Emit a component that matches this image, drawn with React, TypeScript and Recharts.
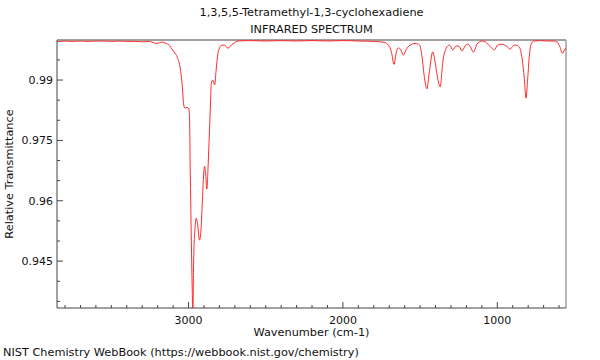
import { LineChart, Line, XAxis, YAxis, ReferenceLine } from "recharts";

// wavenumber (cm-1), read left to right off the plot
const wavenumbers = [
  3852, 3800, 3750, 3700, 3650, 3600, 3550, 3500, 3450, 3400, 3350, 3300, 3253, 3221, 3200, 3188,
  3169, 3145, 3123, 3104, 3084, 3071, 3054, 3041, 3031, 3023, 3010, 3000, 2994, 2989, 2982, 2976,
  2972, 2968, 2959, 2950, 2942, 2929, 2918, 2911, 2903, 2896, 2890, 2881, 2873, 2864, 2857, 2853,
  2844, 2831, 2820, 2810, 2799, 2788, 2766, 2745, 2723, 2701, 2680, 2600, 2500, 2400, 2300, 2200,
  2100, 2000, 1900, 1800, 1760, 1727, 1706, 1695, 1684, 1669, 1656, 1641, 1625, 1608, 1591, 1565,
  1532, 1504, 1489, 1474, 1456, 1440, 1418, 1403, 1388, 1370, 1353, 1331, 1310, 1288, 1266, 1245,
  1229, 1208, 1188, 1175, 1154, 1132, 1099, 1078, 1045, 1019, 998, 969, 937, 916, 898, 877,
  855, 840, 825, 814, 803, 792, 781, 764, 721, 677, 634, 612, 595, 578, 565, 555,
];

const transmittance = [
  0.9995, 0.9997, 0.9996, 0.9997, 0.9996, 0.9997, 0.9997, 0.9996, 0.9997, 0.9996, 0.9996, 0.9995, 0.9996, 0.9992, 0.9991, 0.9993,
  0.9994, 0.9991, 0.9986, 0.9975, 0.9965, 0.9955, 0.993, 0.9888, 0.9838, 0.983, 0.9832, 0.983, 0.9813, 0.9676, 0.9502, 0.9378,
  0.9316, 0.9428, 0.9527, 0.9557, 0.9544, 0.9502, 0.9535, 0.9594, 0.9659, 0.9686, 0.9671, 0.9629, 0.9689, 0.9776, 0.985, 0.989,
  0.99, 0.9888, 0.993, 0.9965, 0.998, 0.9986, 0.9987, 0.9979, 0.9987, 0.9993, 0.9997, 0.9998, 0.9997, 0.9998, 0.9997, 0.9998,
  0.9997, 0.9998, 0.9997, 0.9996, 0.9995, 0.9993, 0.9987, 0.998, 0.9966, 0.9939, 0.9966, 0.998, 0.9975, 0.9962, 0.9975, 0.9987,
  0.9991, 0.9987, 0.9962, 0.9912, 0.9878, 0.9921, 0.997, 0.9945, 0.9908, 0.9883, 0.9945, 0.9979, 0.9987, 0.9975, 0.9985, 0.9983,
  0.9972, 0.9985, 0.9989, 0.9983, 0.9969, 0.9989, 0.9997, 0.9995, 0.9983, 0.9975, 0.9987, 0.9989, 0.9983, 0.9977, 0.9985, 0.9987,
  0.998, 0.9954, 0.9904, 0.9855, 0.9904, 0.9962, 0.9989, 0.9997, 0.9998, 0.9997, 0.9997, 0.9994, 0.9983, 0.9966, 0.9975, 0.998,
];

const xMajorTicks = [3000, 2000, 1000];
const xMinorTicks = [
  3800, 3700, 3600, 3500, 3400, 3300, 3200, 3100, 2900, 2800, 2700, 2600, 2500, 2400, 2300, 2200,
  2100, 1900, 1800, 1700, 1600, 1500, 1400, 1300, 1200, 1100, 900, 800, 700, 600,
];
const yMajorTicks = [0.945, 0.96, 0.975, 0.99];
const yMinorTicks = [0.935, 0.94, 0.95, 0.955, 0.965, 0.97, 0.98, 0.985, 0.995];

const X_DOMAIN = [555, 3852];
const Y_DOMAIN = [0.93335, 0.99995];

const data = wavenumbers.map((w, i) => ({ w, t: transmittance[i] }));

const FONT = "'DejaVu Sans', sans-serif";

function XTick(props: any) {
  const { x, y, payload } = props;
  const major = xMajorTicks.includes(payload.value);
  return (
    <g>
      <line x1={x} x2={x} y1={y} y2={y - (major ? 6 : 3)} stroke="#444" />
      {major && (
        <text x={x} y={y + 16} textAnchor="middle" fontSize={11} fill="#111">
          {payload.value}
        </text>
      )}
    </g>
  );
}

function YTick(props: any) {
  const { x, y, payload } = props;
  const major = yMajorTicks.includes(payload.value);
  return (
    <g>
      <line x1={x} x2={x + (major ? 6 : 3)} y1={y} y2={y} stroke="#444" />
      {major && (
        <text x={x - 4} y={y + 4} textAnchor="end" fontSize={11} fill="#111">
          {payload.value}
        </text>
      )}
    </g>
  );
}

export default function App() {
  const text = { position: "absolute" as const, fontSize: 11.3, lineHeight: "14px", color: "#111", whiteSpace: "nowrap" as const };
  return (
    <div style={{ position: "absolute", left: 0, top: 0, width: 600, height: 360, background: "#fff", fontFamily: FONT }}>
      <LineChart width={600} height={360} data={data} margin={{ top: 40, right: 34, bottom: 22, left: 0 }}>
        <XAxis
          dataKey="w"
          type="number"
          domain={X_DOMAIN}
          reversed
          ticks={[...xMinorTicks, ...xMajorTicks]}
          interval={0}
          tick={<XTick />}
          tickLine={false}
          tickSize={0}
          tickMargin={0}
          height={30}
          axisLine={{ stroke: "#444" }}
        />
        <YAxis
          type="number"
          domain={Y_DOMAIN}
          allowDataOverflow
          ticks={[...yMinorTicks, ...yMajorTicks]}
          interval={0}
          tick={<YTick />}
          tickLine={false}
          tickSize={0}
          tickMargin={0}
          width={57}
          axisLine={{ stroke: "#444" }}
        />
        <ReferenceLine y={Y_DOMAIN[1]} stroke="#a0a0a0" strokeWidth={2} />
        <ReferenceLine x={X_DOMAIN[0]} stroke="#a0a0a0" strokeWidth={1.5} />
        <Line
          type="monotone"
          dataKey="t"
          stroke="#ff2a2a"
          strokeWidth={1}
          dot={false}
          isAnimationActive={false}
        />
      </LineChart>
      <div style={{ ...text, left: 0, width: 623, top: 6, textAlign: "center" }}>
        1,3,5,5-Tetramethyl-1,3-cyclohexadiene
      </div>
      <div style={{ ...text, left: 0, width: 623, top: 23, textAlign: "center" }}>INFRARED SPECTRUM</div>
      <div style={{ ...text, left: 0, width: 623, top: 326, textAlign: "center" }}>Wavenumber (cm-1)</div>
      <div style={{ ...text, left: 3, top: 346 }}>NIST Chemistry WebBook (https://webbook.nist.gov/chemistry)</div>
      <div
        style={{
          ...text,
          left: 10,
          top: 174,
          transform: "translate(-50%, -50%) rotate(-90deg)",
        }}
      >
        Relative Transmittance
      </div>
    </div>
  );
}
